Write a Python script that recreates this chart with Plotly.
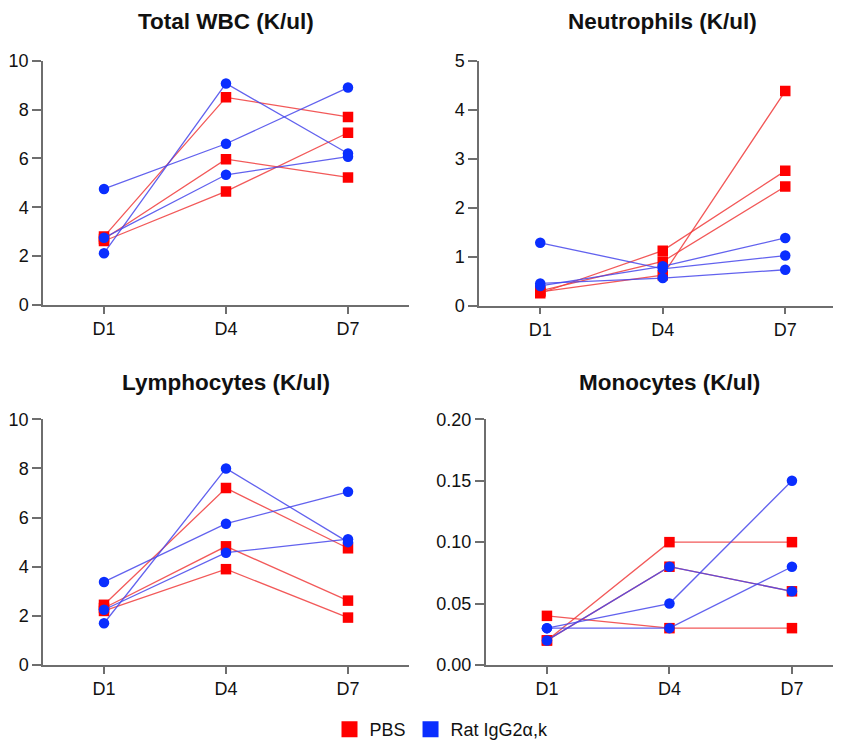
import plotly.graph_objects as go

W, H = 841, 741          # reference canvas
OFF = 8                  # page body margin
FW, FH = W, H
days = ["D1", "D4", "D7"]

# Total WBC (K/ul)
wbc_pbs = [[2.80, 8.50, 7.70], [2.70, 5.97, 5.22], [2.62, 4.65, 7.05]]
wbc_rat = [[4.75, 6.60, 8.90], [2.12, 9.07, 6.20], [2.75, 5.33, 6.07]]
# Neutrophils (K/ul)
neu_pbs = [[0.25, 1.12, 2.75], [0.30, 0.90, 2.43], [0.28, 0.62, 4.38]]
neu_rat = [[1.28, 0.75, 1.02], [0.40, 0.80, 1.38], [0.45, 0.56, 0.73]]
# Lymphocytes (K/ul)
lym_pbs = [[2.45, 7.20, 4.75], [2.32, 4.83, 2.62], [2.20, 3.90, 1.93]]
lym_rat = [[3.38, 5.75, 7.05], [1.70, 8.00, 5.00], [2.25, 4.57, 5.12]]
# Monocytes (K/ul)
mon_pbs = [[0.04, 0.03, 0.03], [0.02, 0.10, 0.10], [0.02, 0.08, 0.06]]
mon_rat = [[0.03, 0.05, 0.15], [0.03, 0.03, 0.08], [0.02, 0.08, 0.06]]

titles = ["Total WBC (K/ul)", "Neutrophils (K/ul)", "Lymphocytes (K/ul)", "Monocytes (K/ul)"]
yranges = [[0, 10], [0, 5], [0, 10], [0, 0.20]]
ydticks = [2, 1, 2, 0.05]
ytickfmt = ["d", "d", "d", ".2f"]

RED = "#ff0000"
BLUE = "#0a2eff"
RED_LINE = "rgba(240,60,60,0.85)"
BLUE_LINE = "rgba(70,70,235,0.85)"
FONT = "Liberation Sans, Arial"


def px(x):
    return (x - OFF) / FW


def py(y):
    return 1 - (y - OFF) / FH


# pixel boxes in reference coords: (left, right, top, bottom)
boxes = [(43, 409, 60.7, 305), (479, 837, 60.7, 305.5),
         (43, 409, 419.3, 665), (485.7, 837, 419.3, 665)]

fig = go.Figure()
panels = [(wbc_pbs, wbc_rat), (neu_pbs, neu_rat), (lym_pbs, lym_rat), (mon_pbs, mon_rat)]

for i, (pbs, rat) in enumerate(panels):
    xa = "x" if i == 0 else f"x{i+1}"
    ya = "y" if i == 0 else f"y{i+1}"
    for series in pbs:
        fig.add_trace(go.Scatter(x=[0, 1, 2], y=series, xaxis=xa, yaxis=ya, mode="lines+markers",
                                 line=dict(color=RED_LINE, width=1.3),
                                 marker=dict(symbol="square", size=10.5, color=RED),
                                 showlegend=False, hoverinfo="skip"))
    for series in rat:
        fig.add_trace(go.Scatter(x=[0, 1, 2], y=series, xaxis=xa, yaxis=ya, mode="lines+markers",
                                 line=dict(color=BLUE_LINE, width=1.3),
                                 marker=dict(symbol="circle", size=10.5, color=BLUE),
                                 showlegend=False, hoverinfo="skip"))

# legend entries
fig.add_trace(go.Scatter(x=[None], y=[None], mode="markers", name="PBS",
                         marker=dict(symbol="square", size=16, color=RED)))
fig.add_trace(go.Scatter(x=[None], y=[None], mode="markers", name="Rat IgG2α,k",
                         marker=dict(symbol="square", size=16, color=BLUE)))

layout = {}
annotations = []
for i, (l, r, t, b) in enumerate(boxes):
    xk = "xaxis" if i == 0 else f"xaxis{i+1}"
    yk = "yaxis" if i == 0 else f"yaxis{i+1}"
    ya = "y" if i == 0 else f"y{i+1}"
    xa = "x" if i == 0 else f"x{i+1}"
    spacing = (r - l) / 3.0 if i in (0, 2) else 122.5
    xmax = -0.5 + (r - l) / spacing
    layout[xk] = dict(domain=[px(l), px(r)], range=[-0.5, xmax], anchor=ya,
                      tickmode="array", tickvals=[0, 1, 2], ticktext=days,
                      showline=True, linecolor="#6e6e6e", linewidth=1.5,
                      ticks="outside", ticklen=7, tickwidth=1.5, tickcolor="#6e6e6e",
                      showgrid=False, zeroline=False, fixedrange=True,
                      tickfont=dict(size=18, color="#111", family=FONT))
    layout[yk] = dict(domain=[py(b), py(t)], range=yranges[i], anchor=xa,
                      dtick=ydticks[i], tick0=0, tickformat=ytickfmt[i],
                      showline=True, linecolor="#6e6e6e", linewidth=1.5,
                      ticks="outside", ticklen=9, tickwidth=1.5, tickcolor="#6e6e6e",
                      showgrid=False, zeroline=False, fixedrange=True,
                      tickfont=dict(size=18, color="#111", family=FONT))
    cx = l + 1.5 * spacing  # D4 position
    ty = 22 if i < 2 else 382
    annotations.append(dict(text=f"<b>{titles[i]}</b>", x=px(cx), y=py(ty), xref="paper", yref="paper",
                            xanchor="center", yanchor="middle", showarrow=False,
                            font=dict(size=22.5, color="#111", family=FONT)))

fig.update_layout(**layout)
fig.update_layout(
    width=FW, height=FH, margin=dict(l=0, r=0, t=0, b=0, pad=0, autoexpand=False),
    plot_bgcolor="white", paper_bgcolor="white",
    annotations=annotations,
    legend=dict(orientation="h", x=px(441.5), y=py(729.5), xanchor="center", yanchor="middle",
                font=dict(size=18, color="#111", family=FONT),
                itemwidth=30, tracegroupgap=0, bgcolor="rgba(0,0,0,0)"),
    showlegend=True,
)

fig.write_html("out.html")
